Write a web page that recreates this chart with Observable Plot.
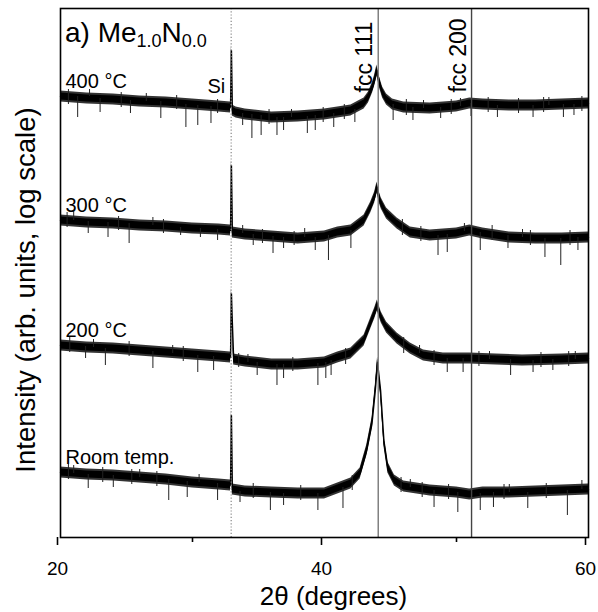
<!DOCTYPE html>
<html><head><meta charset="utf-8">
<script src="https://cdn.jsdelivr.net/npm/d3@7"></script>
<script src="https://cdn.jsdelivr.net/npm/@observablehq/plot@0.6"></script>
<style>body{margin:0;background:#fff}#chart{width:598px;height:612px}</style>
</head><body><div id="chart"></div>
<script>
// reference reflections (2θ, degrees)
const refNames = ["Si", "fcc 111", "fcc 200"];
const refTheta = [32.93, 44.07, 51.14];

// trace labels
const traceNames = ["400 °C", "300 °C", "200 °C", "Room temp."];

// traces: [2θ, log intensity (arbitrary offset units)]
const trace400 = [[20,441],[22,439],[24,438],[26,436],[28,435],[30,433],[32,431],[32.88,430],[32.95,487],[33.02,427],[33.3,425],[34,423],[36,420],[38,421],[40,423],[42,427],[43,434],[43.33,440],[43.64,450],[43.8,457],[43.97,467],[44.17,455],[44.4,445],[44.7,438],[45.15,433],[46,430],[48,429],[50,431],[51,434],[52,433],[54,432],[56,432],[58,433],[60,434]];
const trace300 = [[20,317],[22,315],[24,314],[26,312],[28,311],[30,309],[32,308],[32.88,307],[32.95,372],[33.02,305],[34,303],[36,301],[38,299],[40,301],[41,305],[42,307],[43,317],[43.5,330],[43.8,340],[43.98,350],[44.15,340],[44.3,334],[44.7,324],[45.5,314],[46.5,305],[48,302],[50,304],[51,307],[52,304],[54,300],[56,299],[58,299],[60,300]];
const trace200 = [[20,192],[22,190],[24,189],[26,187],[28,185],[30,183],[32,181],[32.88,180],[32.95,244],[33.0,222],[33.06,200],[33.12,178],[34,176],[36,173],[38,173],[40,175],[41,180],[42,184],[43,197],[43.5,214],[43.8,224],[44.0,232],[44.15,226],[44.3,220],[44.7,210],[45.5,199],[46.5,189],[47.5,182],[49,179],[51,179],[53,178],[55,177],[58,178],[60,179]];
const traceRT = [[20,65],[22,63],[24,62],[26,60],[28,58],[30,55],[32,53],[32.88,52],[32.95,122],[33.02,48],[34,46],[36,45],[38,44],[40,44],[41,49],[42,54],[42.7,64],[43.2,87],[43.6,114],[43.85,147],[44.02,175],[44.25,147],[44.5,97],[44.8,70],[45.3,57],[46,51],[48,47],[50,45],[51,43],[52,45],[54,45],[56,46],[58,47],[60,48]];

// noise spikes: [2θ, low, high]
const spikes400 = [[21.3,420,441],[23.0,425,439],[25.3,424,437],[27.6,419,436],[29.5,410,433],[30.4,412,432],[31.4,414,431],[33.8,412,424],[34.5,399,423],[35.2,402,422],[36.4,402,420],[36.9,407,420],[38.7,404,421],[39.3,407,422],[40.7,410,424],[42.3,415,428],[45.2,417,433],[46.7,417,430],[48.8,419,430],[51.1,421,434],[53.1,420,432],[55.8,420,432],[58.1,420,433],[58.9,422,433],[22.2,441,448],[26.5,436,444],[37.5,420,428],[47.5,429,437],[50.3,431,439],[57.0,432,440],[20.6,433,448],[24.6,430,445],[28.8,428,442],[31.9,424,438],[35.8,413,428],[39.9,415,430],[41.5,418,433],[46.2,422,438],[49.6,423,438],[52.4,425,440],[54.7,424,439],[56.6,425,440],[59.5,426,441]];
const spikes300 = [[22.1,304,316],[23.6,300,315],[25.2,294,314],[29.1,302,310],[30.6,300,309],[31.9,297,308],[34.6,292,303],[36.1,284,301],[36.9,289,300],[39.3,287,300],[40.3,277,302],[42.0,289,307],[48.6,282,302],[49.3,285,303],[51.8,287,305],[53.9,289,302],[56.7,280,299],[57.9,272,299],[59.2,287,300],[21.0,317,326],[27.0,312,320],[33.8,304,312],[38.5,300,309],[50.6,306,314],[55.0,300,308],[20.5,310,325],[24.4,307,321],[27.8,304,318],[35.3,294,308],[37.7,292,306],[45.9,302,318],[47.3,296,311],[52.7,297,312],[55.6,292,307],[58.6,292,307]];
const spikes200 = [[21.9,179,191],[23.4,172,189],[27.0,169,186],[30.4,165,182],[31.6,167,181],[34.9,162,175],[36.4,152,173],[36.9,159,173],[39.5,152,174],[40.1,159,175],[40.5,162,177],[49.3,165,179],[50.5,165,179],[54.1,162,178],[55.8,165,177],[57.3,167,178],[22.5,190,198],[28.5,184,192],[34.2,175,183],[47.2,184,192],[52.5,178,186],[59.0,178,186],[20.7,185,200],[25.2,181,196],[29.3,176,191],[33.5,170,184],[37.6,166,180],[41.6,173,189],[46.0,184,200],[48.3,172,187],[51.7,171,186],[56.4,170,185],[58.5,171,186]];
const spikesRT = [[22.1,49,63],[24.0,50,62],[28.2,37,58],[29.6,40,56],[31.9,37,54],[33.6,35,46],[35.9,27,45],[36.9,32,44],[39.5,27,44],[41.4,29,50],[48.3,30,47],[50.1,25,45],[51.8,27,44],[52.8,30,45],[55.4,29,45],[58.4,22,47],[21.0,64,72],[26.0,60,68],[30.5,55,63],[46.5,50,58],[54.0,45,53],[59.5,48,57],[20.6,58,73],[23.2,55,70],[25.4,53,68],[27.3,51,66],[34.6,39,54],[38.2,37,52],[42.1,47,62],[45.8,45,60],[47.4,40,55],[49.4,38,53],[53.6,38,53],[56.8,39,54]];

// axis ticks
const majorTicks = [20, 40, 60];
const minorTicks = [30, 50];

const traces = [trace400, trace300, trace200, traceRT];
const spikes = [spikes400, spikes300, spikes200, spikesRT];
const refs = refNames.map((name, i) => ({name, x: refTheta[i]}));

const font = "'Liberation Sans', Arial, Helvetica, sans-serif";
const marks = [];
traces.forEach(t => {
  marks.push(Plot.areaY(t, {x: d => d[0], y1: d => d[1] - 5.5, y2: d => d[1] + 5.5, fill: "#333", curve: "linear"}));
  marks.push(Plot.areaY(t, {x: d => d[0], y1: d => d[1] - 3.5, y2: d => d[1] + 3.5, fill: "#000", curve: "linear"}));
  marks.push(Plot.line(t, {x: d => d[0], y: d => d[1], stroke: "#000", strokeWidth: 1.4, curve: "linear"}));
});
spikes.forEach(s => {
  marks.push(Plot.ruleX(s, {x: d => d[0], y1: d => d[1], y2: d => d[2], stroke: "#222", strokeWidth: 1}));
});
marks.push(
  Plot.ruleX(refs.slice(0, 1), {x: "x", stroke: "#888", strokeWidth: 1.2, strokeDasharray: "1.2,2"}),
  Plot.ruleX(refs.slice(1, 2), {x: "x", stroke: "#777", strokeWidth: 1.4}),
  Plot.ruleX(refs.slice(2, 3), {x: "x", stroke: "#444", strokeWidth: 1.4}),
  Plot.text(refs.slice(0, 1), {x: "x", text: "name", frameAnchor: "top", dy: 84, dx: -6, textAnchor: "end", lineAnchor: "bottom", fontSize: 20, fill: "black"}),
  Plot.text(refs.slice(1), {x: "x", text: "name", frameAnchor: "top", dy: 84, dx: -6, rotate: -90, textAnchor: "start", lineAnchor: "bottom", fontSize: 23, fill: "black"}),
  Plot.text(traces.map((t, i) => ({x: t[0][0], y: t[0][1], name: traceNames[i]})), {x: "x", y: "y", text: "name", dx: 5, dy: -9, textAnchor: "start", lineAnchor: "bottom", fontSize: 20, fill: "black"}),
  Plot.frame({stroke: "black", strokeWidth: 1.6}),
  Plot.axisX(majorTicks, {tickSize: 8, tickPadding: 16, fontSize: 19, strokeWidth: 1.6, label: null, dx: -3}),
  Plot.axisX(minorTicks, {tickSize: 5, tickFormat: () => "", strokeWidth: 1.6, label: null}),
  Plot.text(["2θ (degrees)"], {frameAnchor: "bottom", dx: 9, dy: 59, textAnchor: "middle", lineAnchor: "middle", fontSize: 26, fill: "black"}),
  Plot.text(["Intensity (arb. units, log scale)"], {frameAnchor: "left", dx: -34, dy: 17, rotate: -90, textAnchor: "middle", lineAnchor: "middle", fontSize: 27.5, fill: "black"})
);

const chart = Plot.plot({
  width: 598, height: 612,
  marginLeft: 60, marginRight: 10, marginTop: 8, marginBottom: 75,
  x: {domain: [20, 60]},
  y: {domain: [0, 529], axis: null},
  style: {fontFamily: font, background: "white", color: "black"},
  marks
});
document.getElementById("chart").appendChild(chart);

// panel title with subscripts
const svg = d3.select(chart);
const title = svg.append("text").attr("x", 65).attr("y", 42).attr("text-anchor", "start")
  .attr("font-family", font).attr("font-size", 28).attr("fill", "black");
title.append("tspan").text("a) Me");
title.append("tspan").attr("font-size", 18).attr("dy", 5).text("1.0");
title.append("tspan").attr("dy", -5).text("N");
title.append("tspan").attr("font-size", 18).attr("dy", 5).text("0.0");
</script>
</body></html>
